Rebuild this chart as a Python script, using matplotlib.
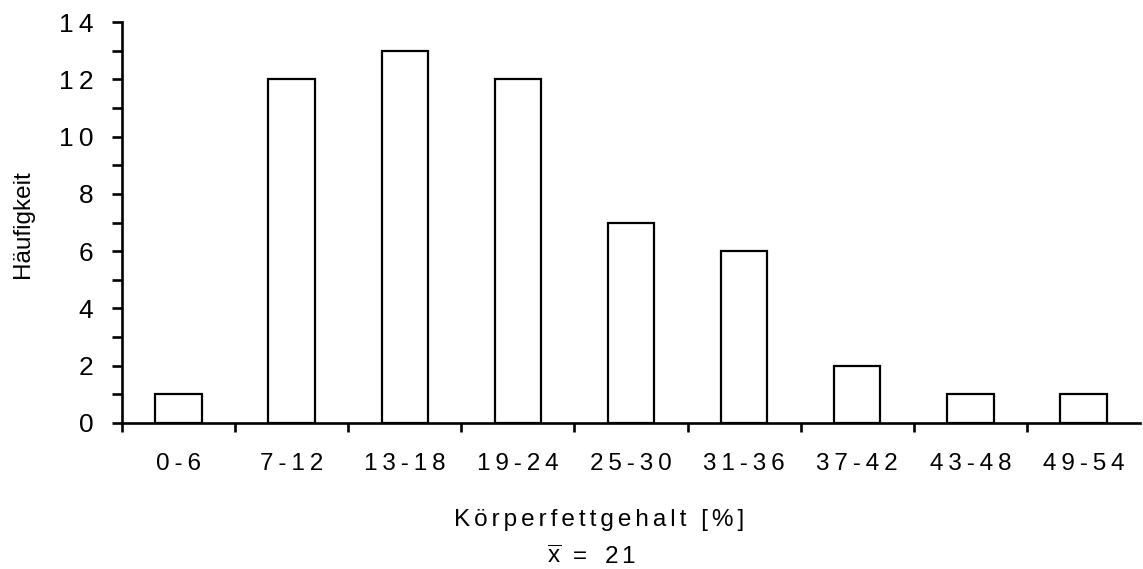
import matplotlib
matplotlib.use("Agg")
import matplotlib.pyplot as plt
import numpy as np

categories = ["0-6", "7-12", "13-18", "19-24", "25-30", "31-36", "37-42", "43-48", "49-54"]
counts = [1, 12, 13, 12, 7, 6, 2, 1, 1]
y_ticks = [0, 2, 4, 6, 8, 10, 12, 14]
x_label = "Körperfettgehalt [%]"
y_label = "Häufigkeit"
mean_value = 21

plt.rcParams['font.family'] = ['Liberation Sans', 'DejaVu Sans']
plt.rcParams['mathtext.fontset'] = 'custom'
plt.rcParams['mathtext.rm'] = 'Liberation Sans'
plt.rcParams['mathtext.sf'] = 'Liberation Sans'

def spaced(s, sep):
    return sep.join(list(s))

fig = plt.figure(figsize=(11.43, 5.69), dpi=100)
ax = fig.add_axes([0.1067, 0.2566, 0.8907, 0.7047])

x = np.arange(len(categories)) + 0.5
ax.bar(x, counts, width=0.41, facecolor="white", edgecolor="black", linewidth=1.6)

ax.set_xlim(0, len(categories))
ax.set_ylim(0, 14)
for s in ["top", "right"]:
    ax.spines[s].set_visible(False)
for s in ["left", "bottom"]:
    ax.spines[s].set_linewidth(1.9)

ax.set_yticks(y_ticks)
ax.set_yticklabels([spaced(str(v), "\u2009") for v in y_ticks], fontsize=19)
ax.set_yticks(np.arange(1, 14, 2), minor=True)
ax.tick_params(axis="y", which="both", direction="out", length=7, width=1.9, pad=13.5)

ax.set_xticks(np.arange(0, len(categories)))
ax.set_xticklabels([])
ax.set_xticks(x, minor=True)
ax.set_xticklabels([spaced(c, "\u2009") for c in categories], minor=True, fontsize=17.5)
ax.tick_params(axis="x", which="major", direction="out", length=6.5, width=1.9)
ax.tick_params(axis="x", which="minor", length=0, pad=21.5)

fig.text(0.5245, 0.0756, spaced(x_label, "\u2006"), ha="center", va="baseline", fontsize=17.5)
fig.text(0.518, 0.008, r"$\overline{\mathrm{x}}$" + "  =  \u2006" + spaced(str(mean_value), "\u2006"),
         ha="center", va="baseline", fontsize=17.5)
fig.text(0.020, 0.606, y_label, ha="center", va="center", rotation=90, fontsize=17.5)

fig.savefig("out.png", dpi=100)
